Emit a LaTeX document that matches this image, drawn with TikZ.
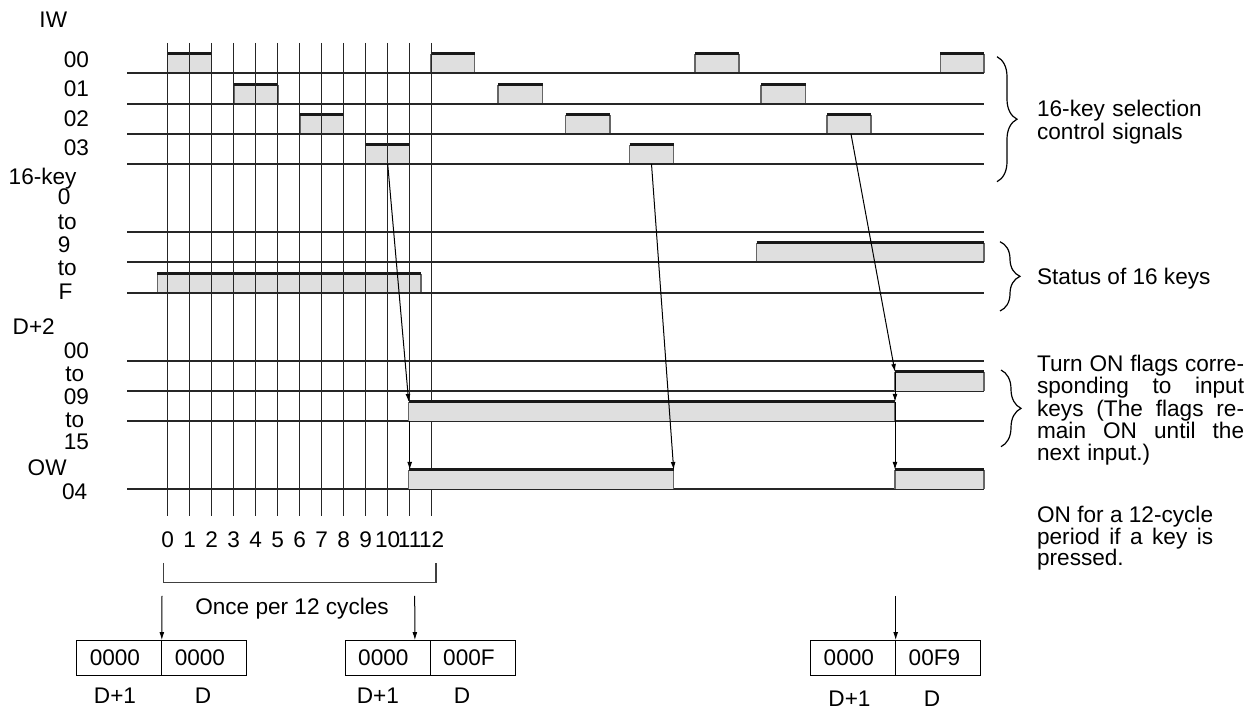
\documentclass[tikz,border=0pt]{standalone}
\usepackage{fontspec}
\setmainfont{Liberation Sans}
\usetikzlibrary{arrows.meta,decorations.pathreplacing,positioning}

\newcommand{\jline}[2]{\leavevmode\hbox to #1{#2}}% a justified line, words split by \hfill

\begin{document}
\begin{tikzpicture}[x=0.5pt,y=-0.5pt,
    font=\fontsize{11.3}{10.5}\selectfont,
    >={Latex[length=4pt,width=2.4pt]},
    gridline/.style={black!85,line width=0.6pt},
    pulsetop/.style={black!90,line width=1.5pt},
    pulseside/.style={black!60,line width=0.6pt},
    sig/.style={->,line width=0.5pt},
    curly/.style={decorate,decoration={brace,amplitude=10pt},line width=0.6pt},
    cell/.style={draw,line width=0.6pt,outer sep=0pt,inner xsep=6.5pt,inner ysep=0pt,
      minimum height=17.5pt,text width=29.5pt,align=left},
    lbl/.style={inner sep=0pt}]

  \useasboundingbox (0,0) rectangle (1254,715);
  \def\xZero{167.7}% cycle 0
  \def\cycW{22}% width of one cycle
  \def\pulse#1#2#3{% start, end, base line
    \fill[gray!25] (#1,#3) rectangle (#2,#3-19);
    \draw[pulseside] (#1,#3) -- (#1,#3-19) (#2,#3-19) -- (#2,#3);
    \draw[pulsetop] (#1,#3-19) -- (#2,#3-19);
  }

  % IW 00 to 03 and the 16 keys, under the grid
  \foreach \xa/\xb/\yb in {167.7/211.7/73,430.7/474.7/73,695/739/73,940.3/984/73,
                           234/278/104,498/542.5/104,761/805.5/104,
                           300/343.7/134,565.7/610/134,827/871/134,
                           365.7/409.7/164,629.5/673.7/164,
                           157.3/421/293,756.7/984/262}{
    \pulse{\xa}{\xb}{\yb}
  }

  % grid and cycle numbers
  \foreach \y in {73,104,134,164,232,262,293,361,391,421,489}
    \draw[gridline] (127,\y) -- (984,\y);
  \foreach \i in {0,...,12}{
    \draw[gridline] ({\xZero+\cycW*\i},43) -- ({\xZero+\cycW*\i},516);
    \node[lbl,anchor=base] (n\i) at ({\xZero+\cycW*\i},548) {\i};
  }

  % D+2 flags and OW 04, over the grid
  \foreach \xa/\xb/\yb in {408.7/895/421,895/984/391,408.7/673.7/489,895/984/489}{
    \pulse{\xa}{\xb}{\yb}
  }

  % left labels
  \node[lbl,anchor=base] (iw) at (53.3,27.7) {IW};
  \node[lbl,anchor=base east] (iw00) at (89.3,67.7) {00};
  \node[lbl,anchor=base east] (iw01) at (89.3,97) {01};
  \node[lbl,anchor=base east] (iw02) at (89.3,126.3) {02};
  \node[lbl,anchor=base east] (iw03) at (89.3,155.7) {03};
  \node[lbl,anchor=base west] (key) at (8.3,185) {16-key};
  \node[lbl,anchor=base west] (key0) at (57.5,205) {0};
  \node[lbl,anchor=base west] (keyToA) at (57.5,229.7) {to};
  \node[lbl,anchor=base west] (key9) at (57.5,252.3) {9};
  \node[lbl,anchor=base west] (keyToB) at (57.5,275.7) {to};
  \node[lbl,anchor=base west] (keyF) at (58.3,300) {F};
  \node[lbl,anchor=base west] (dw) at (12.3,334.3) {D+2};
  \node[lbl,anchor=base east] (dw00) at (89.3,358.3) {00};
  \node[lbl,anchor=base west] (dwToA) at (65,381.5) {to};
  \node[lbl,anchor=base east] (dw09) at (89.3,404.3) {09};
  \node[lbl,anchor=base west] (dwToB) at (65,427.5) {to};
  \node[lbl,anchor=base east] (dw15) at (89.3,450) {15};
  \node[lbl,anchor=base] (ow) at (47.2,476) {OW};
  \node[lbl,anchor=base east] (ow04) at (87.7,500) {04};

  % pulse to flag arrows
  \coordinate (kA) at (387.7,164);
  \coordinate (kB) at (651.5,164);
  \coordinate (kC) at (851,134);
  \coordinate (flA) at (408.7,402);
  \coordinate (flAb) at (409.7,421);
  \coordinate (owA) at (409.7,470);
  \coordinate (owB) at (673.7,470);
  \coordinate (flB) at (895,372);
  \coordinate (flC) at (895,402);
  \coordinate (owC) at (895,470);
  \draw[sig] (kA) -- (flA);
  \draw[sig] (flAb) -- (owA);
  \draw[sig] (kB) -- (owB);
  \draw[sig] (kC) -- (flB);
  \draw[sig] (flB) -- (flC);
  \draw[sig] (flC) -- (owC);

  % notes on the right
  \draw[curly] (997,56.7) -- (997,181.7);
  \node[lbl,anchor=base west,text width=100pt,align=left,
    font=\fontsize{11.3}{10.4}\selectfont] (selNote) at (1036.7,116.7)
    {16-key selection\\control signals};
  \draw[curly] (1000,241.7) -- (1000,311);
  \node[lbl,anchor=base west] (keyNote) at (1036.7,284.3) {Status of 16 keys};
  \draw[curly] (1001,370) -- (1001,446.7);
  \node[lbl,anchor=base west,text width=104pt,align=left,
    font=\fontsize{11.3}{11.1}\selectfont] (flagNote) at (1036.7,371.7)
    {\jline{103.5pt}{Turn\hfill ON\hfill flags\hfill corre-}\\
     \jline{103.5pt}{sponding\hfill to\hfill input}\\
     \jline{103.5pt}{keys\hfill (The\hfill flags\hfill re-}\\
     \jline{103.5pt}{main\hfill ON\hfill until\hfill the}\\next input.)};
  \node[lbl,anchor=base west,text width=90pt,align=left,
    font=\fontsize{11.3}{10.9}\selectfont] (owNote) at (1036.7,522.3)
    {\jline{88pt}{ON\hfill for\hfill a\hfill 12-cycle}\\
     \jline{88pt}{period\hfill if\hfill a\hfill key\hfill is}\\pressed.};

  % read out into D and D+1
  \draw[black!75,line width=0.6pt] (163.3,563) -- (163.3,582.7) -- (436,582.7) -- (436,563);
  \node[lbl,anchor=base] (once) at (292,615) {Once per 12 cycles};
  \node[cell] (cA) at (119.3,657.7) {0000};
  \node[cell,right=0pt of cA] (cAd) {0000};
  \node[cell] (cB) at (387.7,657.7) {0000};
  \node[cell,right=0pt of cB] (cBd) {000F};
  \node[cell] (cC) at (853.2,657.7) {0000};
  \node[cell,right=0pt of cC] (cCd) {00F9};
  \coordinate (rdA) at (162,596);
  \coordinate (rdB) at (414.7,596);
  \coordinate (rdC) at (895.7,596);
  \draw[sig] (rdA) -- (cA.north east);
  \draw[sig] (rdB) -- ([xshift=-7.65pt]cB.north east);
  \draw[sig] (rdC) -- (cC.north east);
  \node[lbl,anchor=base] (cAl) at (115,703.3) {D+1};
  \node[lbl,anchor=base] (cAdl) at (203,703.3) {D};
  \node[lbl,anchor=base] (cBl) at (377.8,703.3) {D+1};
  \node[lbl,anchor=base] (cBdl) at (462,703.3) {D};
  \node[lbl,anchor=base] (cCl) at (849.5,706.7) {D+1};
  \node[lbl,anchor=base] (cCdl) at (932,706.7) {D};

\end{tikzpicture}
\end{document}
